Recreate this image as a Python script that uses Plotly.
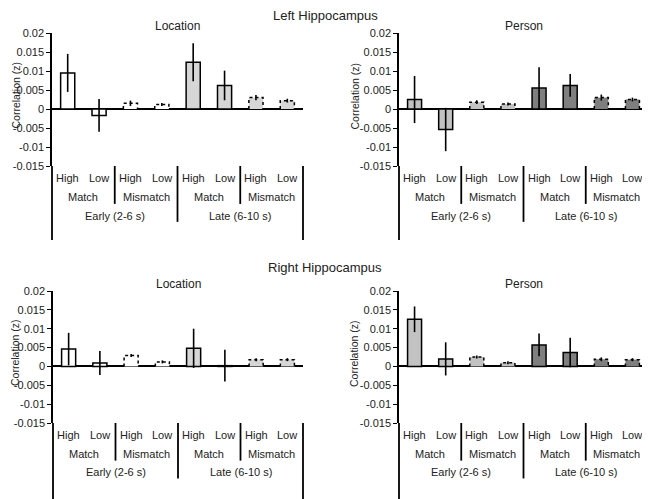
import plotly.graph_objects as go

# ---------------- data ----------------
categories = ["High", "Low", "High", "Low", "High", "Low", "High", "Low"]
match_labels = ["Match", "Mismatch", "Match", "Mismatch"]
period_labels = ["Early (2-6 s)", "Late (6-10 s)"]
tick_vals = [0.02, 0.015, 0.01, 0.005, 0, -0.005, -0.01, -0.015]
tick_text = ["0.02", "0.015", "0.01", "0.005", "0", "-0.005", "-0.01", "-0.015"]
mismatch_idx = [2, 3, 6, 7]

left_location = [0.0095, -0.0017, 0.0015, 0.0012, 0.0123, 0.0062, 0.0030, 0.0022]
left_location_err = [0.0050, 0.0043, 0.0007, 0.0004, 0.0050, 0.0039, 0.0007, 0.0005]
left_person = [0.0025, -0.0054, 0.0018, 0.0013, 0.0055, 0.0062, 0.0030, 0.0025]
left_person_err = [0.0062, 0.0057, 0.0005, 0.0004, 0.0055, 0.0030, 0.0008, 0.0005]
right_location = [0.0046, 0.0009, 0.0029, 0.0012, 0.0048, 0.0002, 0.0018, 0.0018]
right_location_err = [0.0043, 0.0032, 0.0004, 0.0004, 0.0052, 0.0042, 0.0004, 0.0004]
right_person = [0.0125, 0.0020, 0.0025, 0.0010, 0.0057, 0.0037, 0.0019, 0.0018]
right_person_err = [0.0034, 0.0044, 0.0004, 0.0004, 0.0030, 0.0039, 0.0005, 0.0004]

# ---------------- style ----------------
FONT = "Liberation Sans, Arial, sans-serif"
TXT = "#222222"
BAR_W = 0.45
loc_colors = ["#ffffff"] * 4 + ["#d6d6d6"] * 4
per_colors = ["#c2c2c2"] * 4 + ["#7f7f7f"] * 4

# page body has an 8px margin: figure occupies the window from (8, 8)
OFF = 8
W, H = 650 - OFF, 499 - OFF
def dx(px):
    return (px - OFF) / W
def dy(px):
    return 1 - (px - OFF) / H

panels = [
    dict(vals=left_location, err=left_location_err, colors=loc_colors, title="Location",
         xd=[dx(52), dx(303)], yd=[dy(166), dy(33)], ylab_x=15, table_bottom=-0.556),
    dict(vals=left_person, err=left_person_err, colors=per_colors, title="Person",
         xd=[dx(399), dx(648)], yd=[dy(166), dy(33)], ylab_x=354, table_bottom=-0.556),
    dict(vals=right_location, err=right_location_err, colors=loc_colors, title="Location",
         xd=[dx(53), dx(303)], yd=[dy(423), dy(291)], ylab_x=15, table_bottom=-0.62),
    dict(vals=right_person, err=right_person_err, colors=per_colors, title="Person",
         xd=[dx(399), dx(648)], yd=[dy(423), dy(291)], ylab_x=354, table_bottom=-0.62),
]

fig = go.Figure()
shapes = []
annotations = []

for k, p in enumerate(panels):
    n = k + 1
    xa = "x" if n == 1 else f"x{n}"
    ya = "y" if n == 1 else f"y{n}"
    xs = list(range(len(categories)))
    line_w = [0 if i in mismatch_idx else 1.5 for i in xs]
    fig.add_trace(go.Bar(
        x=xs, y=p["vals"], width=BAR_W, xaxis=xa, yaxis=ya,
        marker=dict(color=p["colors"], line=dict(color="black", width=line_w)),
        error_y=dict(type="data", array=p["err"], visible=True, color="black",
                     thickness=1.6, width=0),
        showlegend=False, hoverinfo="skip",
    ))
    # dashed outlines for mismatch bars
    ox, oy = [], []
    for i in mismatch_idx:
        v = p["vals"][i]
        ox += [i - BAR_W / 2, i - BAR_W / 2, i + BAR_W / 2, i + BAR_W / 2, None]
        oy += [0, v, v, 0, None]
    fig.add_trace(go.Scatter(
        x=ox, y=oy, mode="lines", xaxis=xa, yaxis=ya,
        line=dict(color="black", width=1.5, dash="dot"),
        showlegend=False, hoverinfo="skip",
    ))
    axkey_x = "xaxis" if n == 1 else f"xaxis{n}"
    axkey_y = "yaxis" if n == 1 else f"yaxis{n}"
    fig.layout[axkey_x] = dict(domain=p["xd"], range=[-0.5, 7.5], showticklabels=False,
                               showgrid=False, zeroline=False, showline=False,
                               anchor=ya, fixedrange=True, automargin=False)
    fig.layout[axkey_y] = dict(domain=p["yd"], range=[-0.015, 0.02], tickvals=tick_vals,
                               ticktext=tick_text, showgrid=False, zeroline=True,
                               zerolinecolor="black", zerolinewidth=1.5,
                               showline=True, linecolor="black", linewidth=1.5,
                               ticks="outside", ticklen=4, tickwidth=1.2, tickcolor="black",
                               tickfont=dict(family=FONT, size=11, color=TXT),
                               anchor=xa, fixedrange=True, automargin=False)
    xdom = f"{xa} domain"
    ydom = f"{ya} domain"
    tb = p["table_bottom"]
    # table lines
    shapes.append(dict(type="line", xref=xdom, yref=ydom, x0=0, x1=0, y0=0, y1=tb,
                       line=dict(color="black", width=1.8)))
    shapes.append(dict(type="line", xref=xdom, yref=ydom, x0=1, x1=1, y0=0, y1=tb,
                       line=dict(color="black", width=1.8)))
    shapes.append(dict(type="line", xref=xa, yref=ydom, x0=3.5, x1=3.5, y0=0, y1=-0.42,
                       line=dict(color="black", width=1.8)))
    for xd_ in (1.5, 5.5):
        shapes.append(dict(type="line", xref=xa, yref=ydom, x0=xd_, x1=xd_, y0=0, y1=-0.285,
                           line=dict(color="black", width=1.8)))
    # table labels
    for i, c in enumerate(categories):
        annotations.append(dict(x=i, y=-0.09, xref=xa, yref=ydom, text=c, showarrow=False,
                                xanchor="center", yanchor="middle",
                                font=dict(family=FONT, size=11, color=TXT)))
    for j, m in enumerate(match_labels):
        annotations.append(dict(x=2 * j + 0.5, y=-0.232, xref=xa, yref=ydom, text=m,
                                showarrow=False, xanchor="center", yanchor="middle",
                                font=dict(family=FONT, size=11, color=TXT)))
    for j, t in enumerate(period_labels):
        annotations.append(dict(x=4 * j + 1.5, y=-0.374, xref=xa, yref=ydom, text=t,
                                showarrow=False, xanchor="center", yanchor="middle",
                                font=dict(family=FONT, size=11, color=TXT)))
    # panel title
    annotations.append(dict(x=0.5, y=p["yd"][1] + 7 / H, xref=xdom, yref="paper",
                            text=p["title"], showarrow=False, xanchor="center",
                            yanchor="middle", font=dict(family=FONT, size=12, color=TXT)))
    # y axis label
    annotations.append(dict(x=dx(p["ylab_x"]), y=(p["yd"][0] + p["yd"][1]) / 2 + 4 / H,
                            xref="paper", yref="paper", text="Correlation (z)",
                            textangle=-90, showarrow=False, xanchor="center",
                            yanchor="middle", borderpad=0,
                            font=dict(family=FONT, size=10.5, color=TXT)))

annotations.append(dict(x=dx(325), y=1 + 1 / H, xref="paper", yref="paper",
                        text="Left Hippocampus", showarrow=False, xanchor="center",
                        yanchor="top", borderpad=0,
                        font=dict(family=FONT, size=13, color=TXT)))
annotations.append(dict(x=dx(325), y=dy(267), xref="paper", yref="paper",
                        text="Right Hippocampus", showarrow=False, xanchor="center",
                        yanchor="middle", font=dict(family=FONT, size=13, color=TXT)))

fig.update_layout(width=W, height=H, margin=dict(l=0, r=0, t=0, b=0),
                  paper_bgcolor="white", plot_bgcolor="white", shapes=shapes,
                  annotations=annotations, showlegend=False)

fig.write_html("out.html")
